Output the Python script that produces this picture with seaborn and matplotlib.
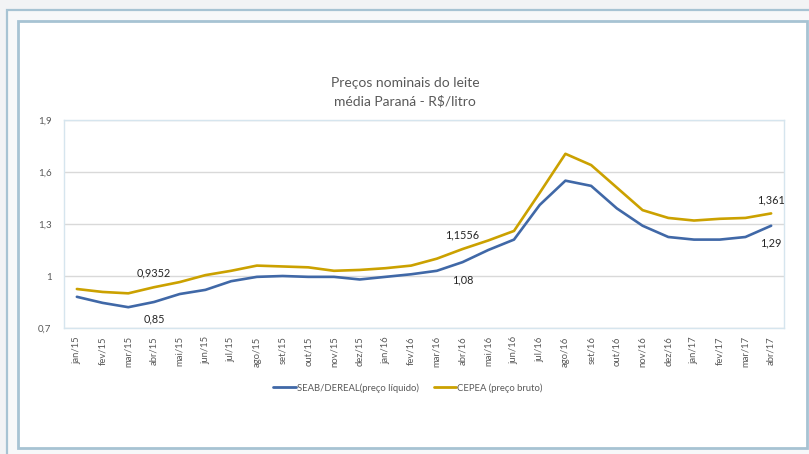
import matplotlib
matplotlib.use("Agg")
import matplotlib.pyplot as plt
from matplotlib.patches import Rectangle
import seaborn as sns
import pandas as pd

months = ["jan/15", "fev/15", "mar/15", "abr/15", "mai/15", "jun/15", "jul/15", "ago/15",
          "set/15", "out/15", "nov/15", "dez/15", "jan/16", "fev/16", "mar/16", "abr/16",
          "mai/16", "jun/16", "jul/16", "ago/16", "set/16", "out/16", "nov/16", "dez/16",
          "jan/17", "fev/17", "mar/17", "abr/17"]
seab = [0.88, 0.845, 0.82, 0.85, 0.896, 0.92, 0.97, 0.995, 1.0, 0.995, 0.995, 0.98,
        0.995, 1.01, 1.03, 1.08, 1.15, 1.21, 1.41, 1.55, 1.52, 1.39, 1.29, 1.225,
        1.21, 1.21, 1.225, 1.29]
cepea = [0.925, 0.908, 0.90, 0.9352, 0.965, 1.005, 1.03, 1.06, 1.055, 1.05, 1.03, 1.035,
         1.045, 1.06, 1.10, 1.1556, 1.205, 1.26, 1.48, 1.705, 1.64, 1.51, 1.38, 1.335,
         1.32, 1.33, 1.335, 1.361]
series_names = ["SEAB/DEREAL(preço líquido)", "CEPEA (preço bruto)"]
y_ticks = [0.7, 1.0, 1.3, 1.6, 1.9]
y_ticklabels = ["0,7", "1", "1,3", "1,6", "1,9"]
labels_seab = {3: "0,85", 15: "1,08", 27: "1,29"}
labels_cepea = {3: "0,9352", 15: "1,1556", 27: "1,361"}

df = pd.DataFrame({
    "pos": list(range(len(months))) * 2,
    "valor": seab + cepea,
    "serie": [series_names[0]] * len(months) + [series_names[1]] * len(months),
})

sns.set_theme(style="white")
plt.rcParams["font.family"] = ["Lato", "DejaVu Sans"]

W, H = 809, 454
fig = plt.figure(figsize=(W / 100, H / 100), dpi=100)
fig.patch.set_facecolor("#f2f3f5")

border = "#a7c3d3"
# outer frame
fig.patches.append(Rectangle((7 / W, -0.1), 1.2, 1 - 10 / H + 0.1, transform=fig.transFigure,
                             facecolor="#f7f8f9", edgecolor=border, lw=1.6, zorder=0))
# inner frame
fig.patches.append(Rectangle((18 / W, 1 - 448 / H), (807 - 18) / W, (448 - 21) / H,
                             transform=fig.transFigure, facecolor="white", edgecolor=border,
                             lw=2.0, zorder=1))

ax = fig.add_axes([64 / W, 1 - 328 / H, (784 - 64) / W, (328 - 120) / H])
ax.set_zorder(2)
palette = {series_names[0]: "#4068a7", series_names[1]: "#cba100"}
sns.lineplot(data=df, x="pos", y="valor", hue="serie", palette=palette, ax=ax,
             linewidth=1.9, sort=False, legend=False)

ax.set_xlim(-0.5, len(months) - 0.5)
ax.set_ylim(0.7, 1.9)
ax.set_yticks(y_ticks)
ax.set_yticklabels(y_ticklabels)
ax.set_xticks(range(len(months)))
ax.set_xticklabels(months, rotation=90)
ax.tick_params(axis="y", labelsize=7, colors="#595959", length=0, pad=9)
ax.tick_params(axis="x", labelsize=6.8, colors="#595959", length=0, pad=6)
ax.set_xlabel("")
ax.set_ylabel("")
ax.grid(axis="y", color="#d9d9d9", lw=1.0)
ax.set_axisbelow(True)
for s in ax.spines.values():
    s.set_visible(True)
    s.set_color("#d6e5ee")
    s.set_linewidth(1.0)

for i, t in labels_cepea.items():
    ax.annotate(t, (i, cepea[i]), xytext=(0, 10), textcoords="offset points",
                ha="center", va="center", fontsize=7.8, color="#262626")
for i, t in labels_seab.items():
    ax.annotate(t, (i, seab[i]), xytext=(0, -12.5), textcoords="offset points",
                ha="center", va="center", fontsize=7.8, color="#262626")

fig.text(405 / W, 1 - 83 / H, "Preços nominais do leite", ha="center", va="center",
         fontsize=10, color="#595959")
fig.text(405 / W, 1 - 101 / H, "média Paraná - R$/litro", ha="center", va="center",
         fontsize=10, color="#595959")

# legend
from matplotlib.lines import Line2D
handles = [Line2D([], [], color=palette[n], lw=2.0) for n in series_names]
leg = fig.legend(handles, series_names, loc="center", bbox_to_anchor=(408 / W, 1 - 388 / H),
                 ncol=2, frameon=False, fontsize=6.8, handlelength=2.4, handletextpad=0.1,
                 columnspacing=1.6)
for t in leg.get_texts():
    t.set_color("#595959")

fig.savefig("out.png", dpi=100, facecolor=fig.get_facecolor())
